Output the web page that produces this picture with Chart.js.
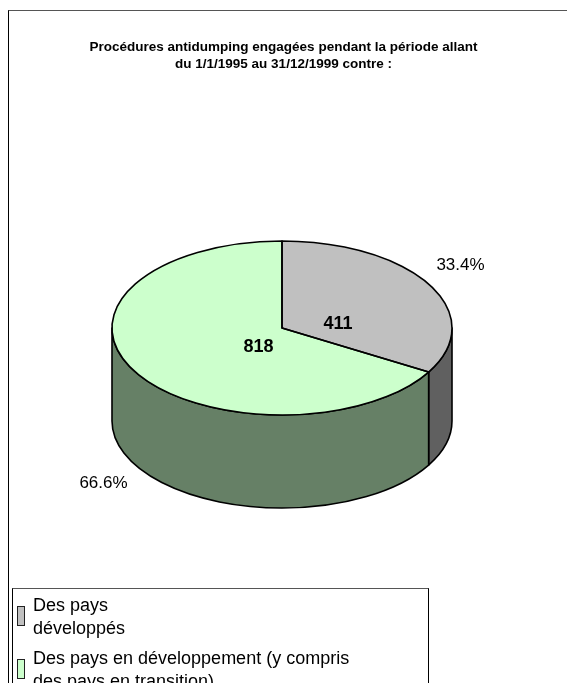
<!DOCTYPE html>
<html>
<head>
<meta charset="utf-8">
<script src="https://cdn.jsdelivr.net/npm/chart.js@4/dist/chart.umd.min.js"></script>
<style>
  body { margin: 0; background: #fff; }
  #wrap { position: relative; width: 567px; height: 683px; overflow: hidden; font-family: "Liberation Sans", Arial, sans-serif; }
  #frame { position: absolute; left: 8px; top: 10px; width: 700px; height: 800px; border-left: 1px solid #000; border-top: 1px solid #555; }
  #pie { position: absolute; left: 0; top: 0; }
  #title { position: absolute; left: 0; top: 38px; width: 567px; text-align: center; font-weight: bold; font-size: 13.5px; line-height: 17px; color: #000; }
  #legend { position: absolute; left: 12px; top: 588px; width: 415px; height: 200px; border-top: 1px solid #555; border-left: 1px solid #000; border-right: 1px solid #000; }
  .item { position: relative; padding-left: 20px; font-size: 18px; line-height: 23px; color: #000; }
  .item:first-child { margin-top: 5px; }
  .item + .item { margin-top: 7px; }
  .swatch { position: absolute; left: 4px; top: 12px; width: 6px; height: 18px; border: 1.5px solid #222; }
</style>
</head>
<body>
<div id="wrap">
  <div id="frame"></div>
  <canvas id="pie" width="567" height="683"></canvas>
  <div id="title">Procédures antidumping engagées pendant la période allant<br>du 1/1/1995 au 31/12/1999 contre :</div>
  <div id="legend"></div>
</div>
<script>
// ===== DATA =====
const categories = [
  ['Des pays', 'développés'],
  ['Des pays en développement (y compris', 'des pays en transition)'],
];
const values = [411, 818];

// ===== STYLE =====
const topColors = ['#C0C0C0', '#CCFFCC'];
const sideColors = ['#606060', '#668066'];

const total = values.reduce((a, b) => a + b, 0);
const percents = values.map(v => (v / total * 100).toFixed(1) + '%');

// 3D pie: side walls under the tilted top, then outlines + labels
const pie3d = {
  id: 'pie3d',
  beforeDatasetsDraw(chart, args, opts) {
    const ctx = chart.ctx;
    const arcs = chart.getDatasetMeta(0).data;
    const { x: cx, y: cy, outerRadius: rx } = arcs[0];
    const ry = rx * opts.tilt;
    const depth = rx * opts.depth;

    ctx.save();
    ctx.lineWidth = opts.lineWidth;
    ctx.lineJoin = 'round';
    ctx.strokeStyle = '#000';
    arcs.forEach((arc, i) => {
      for (let k = -1; k <= 1; k++) {
        const lo = Math.max(arc.startAngle, 2 * Math.PI * k);
        const hi = Math.min(arc.endAngle, 2 * Math.PI * k + Math.PI);
        if (hi <= lo) continue;
        ctx.beginPath();
        ctx.ellipse(cx, cy, rx, ry, 0, lo, hi);
        ctx.ellipse(cx, cy + depth, rx, ry, 0, hi, lo, true);
        ctx.closePath();
        ctx.fillStyle = sideColors[i];
        ctx.fill();
        ctx.stroke();
      }
    });
    ctx.restore();

    // squash the library's own arcs into the top ellipse
    ctx.save();
    ctx.translate(cx, cy);
    ctx.scale(1, opts.tilt);
    ctx.translate(-cx, -cy);
  },
  afterDatasetsDraw(chart, args, opts) {
    const ctx = chart.ctx;
    ctx.restore();

    const arcs = chart.getDatasetMeta(0).data;
    const { x: cx, y: cy, outerRadius: rx } = arcs[0];
    const ry = rx * opts.tilt;
    const depth = rx * opts.depth;

    ctx.save();
    ctx.lineWidth = opts.lineWidth;
    ctx.lineJoin = 'round';
    ctx.strokeStyle = '#000';
    arcs.forEach(arc => {
      ctx.beginPath();
      ctx.moveTo(cx, cy);
      ctx.ellipse(cx, cy, rx, ry, 0, arc.startAngle, arc.endAngle);
      ctx.closePath();
      ctx.stroke();
    });

    ctx.fillStyle = '#000';
    ctx.textAlign = 'center';
    ctx.textBaseline = 'middle';
    arcs.forEach((arc, i) => {
      const mid = (arc.startAngle + arc.endAngle) / 2;
      const c = Math.cos(mid), s = Math.sin(mid);

      // value inside the slice
      const f = opts.insideR[i];
      ctx.font = 'bold 18px "Liberation Sans", Arial, sans-serif';
      ctx.fillText(String(values[i]), cx + rx * f * c, cy + ry * f * s + opts.insideDy);

      // percentage outside
      ctx.font = '17px "Liberation Sans", Arial, sans-serif';
      const ox = cx + rx * opts.outKx * c;
      const oy = cy + ry * opts.outKy * s + (s > 0 ? depth : 0);
      ctx.fillText(percents[i], ox, oy);
    });
    ctx.restore();
  },
};

new Chart(document.getElementById('pie'), {
  type: 'pie',
  data: {
    labels: categories,
    datasets: [{
      data: values,
      backgroundColor: topColors,
      borderWidth: 0,
      hoverBorderWidth: 0,
      hoverOffset: 0,
    }],
  },
  options: {
    responsive: false,
    animation: false,
    devicePixelRatio: 1,
    events: [],
    layout: { padding: { left: 112, right: 115, top: 158, bottom: 185 } },
    plugins: {
      legend: { display: false },
      tooltip: { enabled: false },
      title: { display: false },
      pie3d: { tilt: 0.512, depth: 0.547, lineWidth: 1.6, insideR: [0.38, 0.16], insideDy: 12, outKx: 1.21, outKy: 1.45 },
    },
  },
  plugins: [pie3d],
});

// ===== LEGEND =====
const legend = document.getElementById('legend');
categories.forEach((lines, i) => {
  const item = document.createElement('div');
  item.className = 'item';
  const sw = document.createElement('span');
  sw.className = 'swatch';
  sw.style.background = topColors[i];
  item.appendChild(sw);
  lines.forEach((line, j) => {
    if (j > 0) item.appendChild(document.createElement('br'));
    item.appendChild(document.createTextNode(line));
  });
  legend.appendChild(item);
});
</script>
</body>
</html>
